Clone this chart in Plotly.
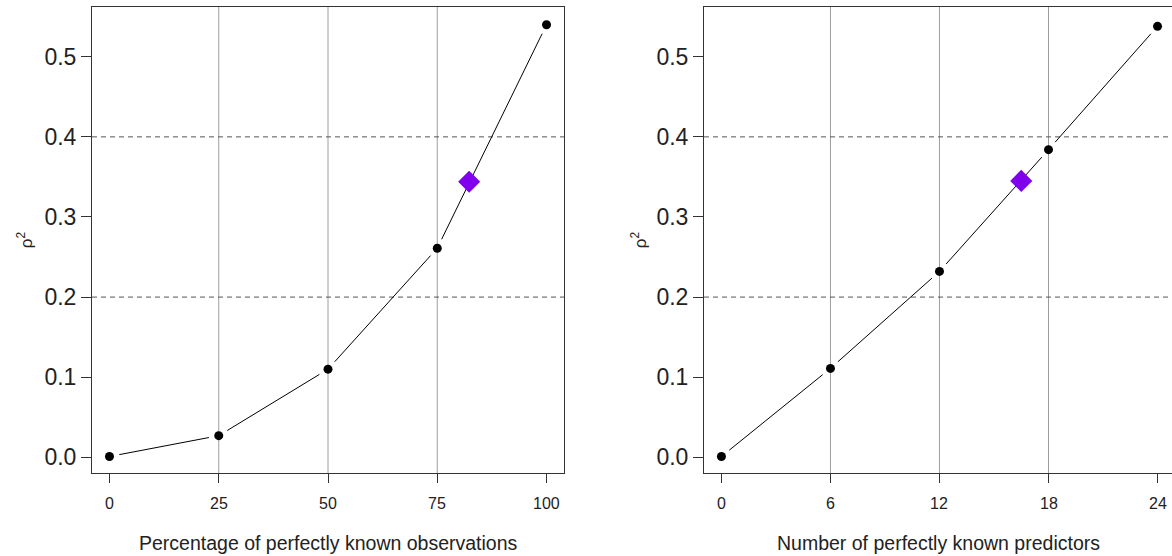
import plotly.graph_objects as go
import numpy as np

# ---- data ----
obs_pct = [0, 25, 50, 75, 100]
obs_rho2 = [0.001, 0.027, 0.110, 0.261, 0.540]
obs_mark_x = [82.3]
obs_mark_y = [0.344]

pred_n = [0, 6, 12, 18, 24]
pred_rho2 = [0.001, 0.111, 0.232, 0.384, 0.538]
pred_mark_x = [16.5]
pred_mark_y = [0.345]

obs_ticks = [0, 25, 50, 75, 100]
pred_ticks = [0, 6, 12, 18, 24]
y_ticks = [0.0, 0.1, 0.2, 0.3, 0.4, 0.5]
obs_vlines = [25, 50, 75]
pred_vlines = [6, 12, 18]
hlines = [0.2, 0.4]
obs_title = "Percentage of perfectly known observations"
pred_title = "Number of perfectly known predictors"

W, H = 1172, 556
FONT = "Liberation Sans, Arial, Helvetica, sans-serif"

# panel geometry (pixels)
L_x0, L_x1 = 92, 564
R_x0, R_x1 = 704, 1172
y_top, y_bot = 7, 473
L_xr = [-4.0, 104.0]
R_xr = [-0.96, -0.96 + (R_x1 - R_x0) / 18.17]
yr = [-0.0196, 0.5621]


def gapped(xs, ys, xr, px_w, gap=10.0):
    sx = px_w / (xr[1] - xr[0])
    sy = (y_bot - y_top) / (yr[1] - yr[0])
    ox, oy = [], []
    for i in range(len(xs) - 1):
        dx = (xs[i + 1] - xs[i]) * sx
        dy = (ys[i + 1] - ys[i]) * sy
        d = np.hypot(dx, dy)
        if d <= 2 * gap:
            continue
        fx, fy = gap * dx / d / sx, gap * dy / d / sy
        ox += [xs[i] + fx, xs[i + 1] - fx, None]
        oy += [ys[i] + fy, ys[i + 1] - fy, None]
    return ox, oy


fig = go.Figure()

for (xs, ys, mx, my, xr, pw, xa, ya) in [
    (obs_pct, obs_rho2, obs_mark_x, obs_mark_y, L_xr, L_x1 - L_x0, "x", "y"),
    (pred_n, pred_rho2, pred_mark_x, pred_mark_y, R_xr, R_x1 - R_x0, "x2", "y2"),
]:
    gx, gy = gapped(xs, ys, xr, pw)
    fig.add_trace(go.Scatter(x=gx, y=gy, mode="lines", xaxis=xa, yaxis=ya,
                             line=dict(color="black", width=1), showlegend=False,
                             hoverinfo="skip"))
    fig.add_trace(go.Scatter(x=xs, y=ys, mode="markers", xaxis=xa, yaxis=ya,
                             marker=dict(color="black", size=9, line=dict(width=0)),
                             showlegend=False))
    fig.add_trace(go.Scatter(x=mx, y=my, mode="markers", xaxis=xa, yaxis=ya,
                             marker=dict(color="#8000EE", size=17, symbol="diamond",
                                         line=dict(width=0)),
                             showlegend=False))

shapes = []
for v in obs_vlines:
    shapes.append(dict(type="line", xref="x", yref="y domain", x0=v, x1=v, y0=0, y1=1,
                       line=dict(color="#9e9e9e", width=1), layer="below"))
for v in pred_vlines:
    shapes.append(dict(type="line", xref="x2", yref="y2 domain", x0=v, x1=v, y0=0, y1=1,
                       line=dict(color="#9e9e9e", width=1), layer="below"))
for h in hlines:
    shapes.append(dict(type="line", xref="x domain", yref="y", x0=0, x1=1, y0=h, y1=h,
                       line=dict(color="#555555", width=1, dash="5px,4px"), layer="below"))
    shapes.append(dict(type="line", xref="x2 domain", yref="y2", x0=0, x1=1, y0=h, y1=h,
                       line=dict(color="#555555", width=1, dash="5px,4px"), layer="below"))

# x tick labels and axis titles as annotations (placed further from the axis, R-style)
annotations = []
for ticks, xa, ya in [(obs_ticks, "x", "y domain"), (pred_ticks, "x2", "y2 domain")]:
    for t in ticks:
        annotations.append(dict(x=t, y=0, xref=xa, yref=ya, text=str(t), showarrow=False,
                                yanchor="middle", yshift=-30,
                                font=dict(family=FONT, size=16, color="#222222")))
for title, xa, ya in [(obs_title, "x domain", "y domain"), (pred_title, "x2 domain", "y2 domain")]:
    annotations.append(dict(x=0.5, y=0, xref=xa, yref=ya, text=title, showarrow=False,
                            yanchor="middle", yshift=-70,
                            font=dict(family=FONT, size=19.5, color="#222222")))

ydom = [(H - y_bot) / H, (H - y_top) / H]

xcommon = dict(showgrid=False, zeroline=False, showline=True, linecolor="#333333",
               linewidth=1, mirror=True, ticks="outside", ticklen=9, tickcolor="#333333",
               showticklabels=False)
ycommon = dict(showgrid=False, zeroline=False, showline=True, linecolor="#333333",
               linewidth=1, ticks="outside", ticklen=10, tickcolor="#333333",
               tickvals=y_ticks, ticktext=[f"{v:.1f}" for v in y_ticks],
               tickfont=dict(family=FONT, size=23, color="#222222"),
               title_font=dict(family=FONT, size=17, color="#222222"),
               range=yr)

fig.update_layout(
    width=W, height=H,
    margin=dict(l=0, r=0, t=0, b=0),
    plot_bgcolor="white", paper_bgcolor="white",
    shapes=shapes,
    annotations=annotations,
    xaxis=dict(domain=[L_x0 / W, L_x1 / W], range=L_xr, tickvals=obs_ticks, anchor="y",
               **xcommon),
    yaxis=dict(domain=ydom, anchor="x", title_text="ρ<sup>2</sup>", title_standoff=7,
               mirror=True, **ycommon),
    xaxis2=dict(domain=[R_x0 / W, 1.0], range=R_xr, tickvals=pred_ticks, anchor="y2",
                **xcommon),
    yaxis2=dict(domain=ydom, anchor="x2", title_text="ρ<sup>2</sup>", title_standoff=5,
                mirror=False, **ycommon),
)

fig.write_html("out.html")
